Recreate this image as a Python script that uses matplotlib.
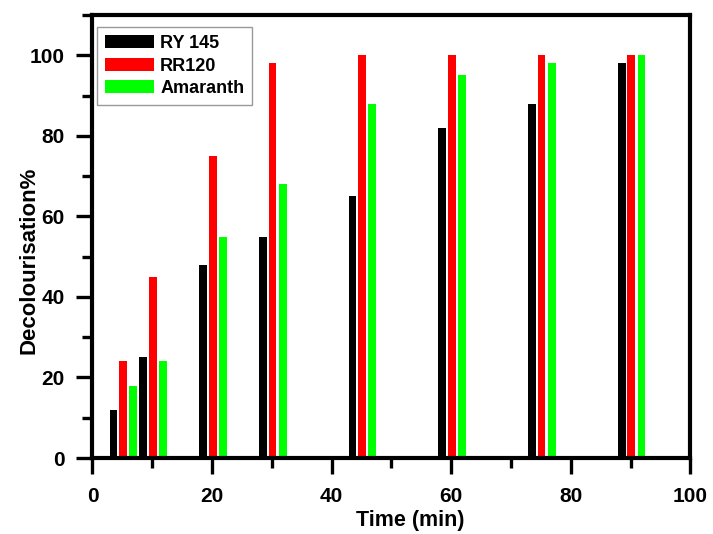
import numpy as np
import matplotlib
matplotlib.use('Agg')
import matplotlib.pyplot as plt
from matplotlib.ticker import MultipleLocator

# time points (min) and decolourisation % for each dye
times = [5, 10, 20, 30, 45, 60, 75, 90]
ry145 = [12, 25, 48, 55, 65, 82, 88, 98]
rr120 = [24, 45, 75, 98, 100, 100, 100, 100]
amaranth = [18, 24, 55, 68, 88, 95, 98, 100]

plt.rcParams['font.family'] = ['Liberation Sans', 'DejaVu Sans']
plt.rcParams['font.weight'] = 'bold'

fig = plt.figure(figsize=(7.13, 5.34), dpi=100)
ax = fig.add_axes([0.1297, 0.1423, 0.8387, 0.8296])

t = np.array(times)
w = 1.3
ax.bar(t - 1.5, ry145, width=w, color='black', label='RY 145')
ax.bar(t + 0.1, rr120, width=w, color='#ff0000', label='RR120')
ax.bar(t + 1.8, amaranth, width=w, color='#00ff00', label='Amaranth')

ax.set_xlim(0, 100)
ax.set_ylim(0, 110)
ax.xaxis.set_major_locator(MultipleLocator(20))
ax.xaxis.set_minor_locator(MultipleLocator(10))
ax.yaxis.set_major_locator(MultipleLocator(20))
ax.yaxis.set_minor_locator(MultipleLocator(10))
ax.tick_params(which='major', direction='out', length=11.5, width=2.4, labelsize=15)
ax.tick_params(which='minor', direction='out', length=7, width=2.4)
ax.tick_params(axis='x', which='major', pad=9.5)
ax.tick_params(axis='y', which='major', pad=8.5)
for s in ax.spines.values():
    s.set_linewidth(3)

ax.set_xlabel('Time (min)', fontsize=15.5, fontweight='bold')
ax.set_ylabel('Decolourisation%', fontsize=16, fontweight='bold')
ax.xaxis.set_label_coords(0.531, -0.118)
ax.yaxis.set_label_coords(-0.088, 0.447)

leg = ax.legend(loc='upper left', bbox_to_anchor=(0.0075, 0.973), borderaxespad=0,
                fontsize=13, frameon=True, fancybox=False,
                handlelength=2.7, handleheight=0.75, borderpad=0.45, labelspacing=0.3,
                handletextpad=0.35)
leg.get_frame().set_edgecolor('#808080')
leg.get_frame().set_linewidth(1)

fig.savefig('out.png', dpi=100)
